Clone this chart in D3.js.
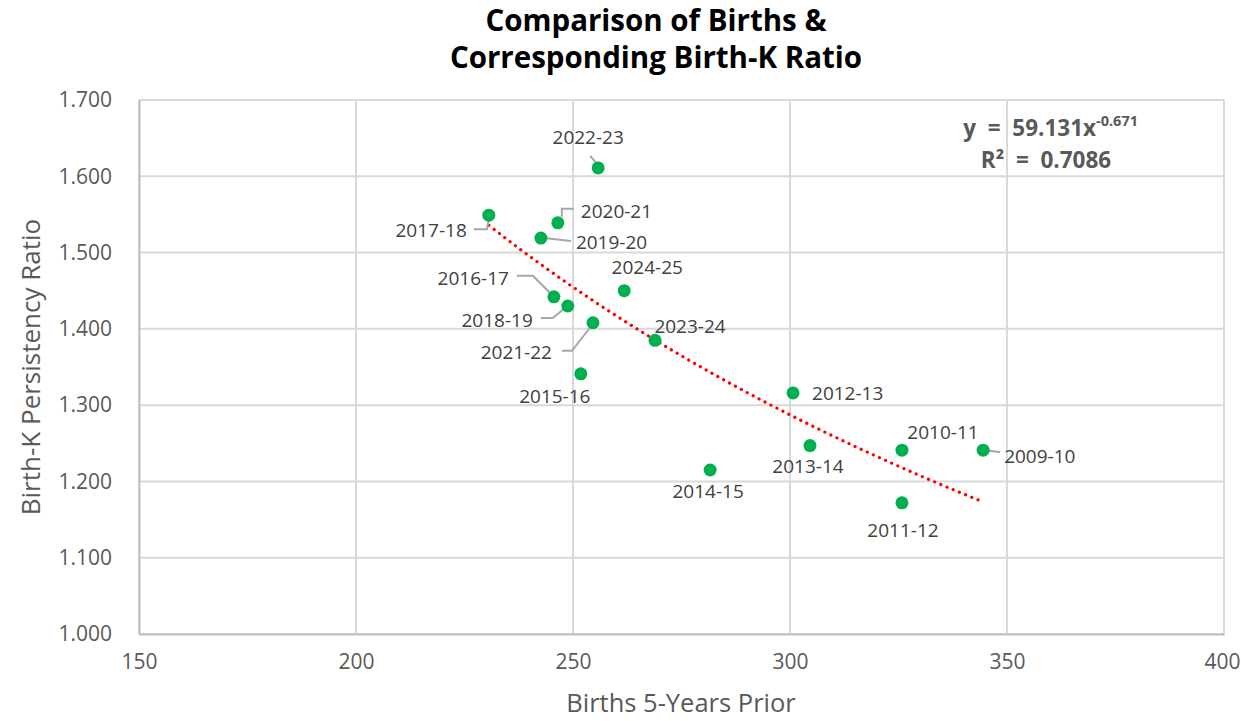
<!DOCTYPE html>
<html><head><meta charset="utf-8">
<script src="https://cdn.jsdelivr.net/npm/d3@7"></script>
<style>
body{margin:0;background:#fff;}
svg text{font-family:"Open Sans","Noto Sans",sans-serif;}
</style></head>
<body><svg id="c" width="1241" height="721"></svg>
<script>
// ---- data ----
const seasons = ["2009-10","2010-11","2011-12","2012-13","2013-14","2014-15","2015-16","2016-17","2017-18","2018-19","2019-20","2020-21","2021-22","2022-23","2023-24","2024-25"];
const births  = [344.5, 325.8, 325.8, 300.7, 304.6, 281.6, 251.8, 245.6, 230.6, 248.8, 242.6, 246.5, 254.6, 255.8, 268.9, 261.8];
const ratios  = [1.241, 1.241, 1.172, 1.316, 1.247, 1.215, 1.341, 1.442, 1.549, 1.430, 1.519, 1.539, 1.408, 1.611, 1.385, 1.450];
const xTicks = [150, 200, 250, 300, 350, 400];
const yTicks = [1.0, 1.1, 1.2, 1.3, 1.4, 1.5, 1.6, 1.7];
const trendCoef = 59.131, trendExp = -0.671, trendR2 = 0.7086;

// ---- layout (label offsets relative to point, in px) ----
const labelLayout = {
  "2022-23": {dx:-10, dy:-31, a:"middle", lead:[[-8,-12],[-2,-5]]},
  "2020-21": {dx:23, dy:-12, a:"start", lead:[[16,-14],[4,-14],[4,-6]]},
  "2019-20": {dx:35, dy:4, a:"start", lead:[[3,0],[30,3]]},
  "2017-18": {dx:-22, dy:15, a:"end", lead:[[-15,14],[-2,14],[0,5]]},
  "2016-17": {dx:-45, dy:-19, a:"end", lead:[[-37,-21],[-21,-21],[-4,-4]]},
  "2018-19": {dx:-35, dy:14, a:"end", lead:[[-27,12],[-15,12],[-4,3]]},
  "2021-22": {dx:-41, dy:29, a:"end", lead:[[-31,28],[-21,28],[-3,5]]},
  "2024-25": {dx:23, dy:-24, a:"middle"},
  "2023-24": {dx:35, dy:-14, a:"middle"},
  "2015-16": {dx:-26, dy:22, a:"middle"},
  "2012-13": {dx:19, dy:0, a:"start"},
  "2013-14": {dx:-2, dy:20, a:"middle"},
  "2010-11": {dx:41, dy:-18, a:"middle"},
  "2009-10": {dx:21, dy:6, a:"start", lead:[[3,0],[17,2]]},
  "2014-15": {dx:-2, dy:21, a:"middle"},
  "2011-12": {dx:1, dy:27, a:"middle"}
};

const svg = d3.select("#c");
const L = 139, R = 1224, T = 100, B = 634;
const x = d3.scaleLinear().domain([150, 400]).range([L, R]);
const y = d3.scaleLinear().domain([1.0, 1.7]).range([B, T]);
const grid = "#d9d9d9", txt = "#595959";

// gridlines
svg.append("g").selectAll("line").data(yTicks).join("line")
  .attr("x1", L).attr("x2", R).attr("y1", d => y(d)).attr("y2", d => y(d))
  .attr("stroke", grid).attr("stroke-width", 2);
svg.append("g").selectAll("line").data(xTicks).join("line")
  .attr("x1", d => x(d)).attr("x2", d => x(d)).attr("y1", T).attr("y2", B)
  .attr("stroke", grid).attr("stroke-width", 2);

// axes
const xAxis = svg.append("g").attr("transform", `translate(0,${B})`)
  .call(d3.axisBottom(x).tickValues(xTicks).tickSize(0).tickPadding(20).tickFormat(d3.format("d")));
const yAxis = svg.append("g").attr("transform", `translate(${L},0)`)
  .call(d3.axisLeft(y).tickValues(yTicks).tickSize(0).tickPadding(27).tickFormat(d3.format(".3f")));
[xAxis, yAxis].forEach(g => {
  g.select(".domain").attr("stroke", "#bfbfbf").attr("stroke-width", 2);
  g.selectAll("text").attr("fill", txt).attr("font-size", 21)
   .style("font-family", '"Open Sans","Noto Sans",sans-serif');
});
// keep last x tick label inside the canvas
xAxis.selectAll(".tick text").filter(d => d === 400).attr("text-anchor", "end").attr("x", 16);

// axis titles
svg.append("text").attr("x", 681).attr("y", 712).attr("text-anchor", "middle")
  .attr("fill", txt).attr("font-size", 25.5).text("Births 5-Years Prior");
svg.append("text").attr("transform", "translate(40,367) rotate(-90)").attr("text-anchor", "middle")
  .attr("fill", txt).attr("font-size", 26).text("Birth-K Persistency Ratio");

// title
const title = svg.append("text").attr("text-anchor", "middle").attr("font-weight", 700)
  .attr("font-size", 29.5).attr("fill", "#000");
title.append("tspan").attr("x", 656).attr("y", 31).text("Comparison of Births &");
title.append("tspan").attr("x", 656).attr("y", 68).text("Corresponding Birth-K Ratio");

// trendline
const xs = d3.extent(births);
const tPts = d3.range(0, 101).map(i => {
  const bx = xs[0] + (xs[1] - xs[0]) * i / 100;
  return [bx, trendCoef * Math.pow(bx, trendExp)];
});
svg.append("path").datum(tPts)
  .attr("d", d3.line().x(d => x(d[0])).y(d => y(d[1])))
  .attr("fill", "none").attr("stroke", "#ff0000").attr("stroke-width", 3.2)
  .attr("stroke-linecap", "round").attr("stroke-dasharray", "0.1,6.6");

// data
const pts = seasons.map((s, i) => ({s, bx: births[i], r: ratios[i]}));

// leader lines
svg.append("g").selectAll("path").data(pts.filter(d => labelLayout[d.s].lead)).join("path")
  .attr("d", d => {
    const px = x(d.bx), py = y(d.r);
    return d3.line()(labelLayout[d.s].lead.map(p => [px + p[0], py + p[1]]));
  })
  .attr("fill", "none").attr("stroke", "#a6a6a6").attr("stroke-width", 2);

// points
svg.append("g").selectAll("circle").data(pts).join("circle")
  .attr("cx", d => x(d.bx)).attr("cy", d => y(d.r)).attr("r", 6.5)
  .attr("fill", "#00b050");

// labels
svg.append("g").selectAll("text").data(pts).join("text")
  .attr("x", d => x(d.bx) + labelLayout[d.s].dx)
  .attr("y", d => y(d.r) + labelLayout[d.s].dy)
  .attr("text-anchor", d => labelLayout[d.s].a)
  .attr("dominant-baseline", "central")
  .attr("fill", "#404040").attr("font-size", 19).text(d => d.s);

// equation
const eq = svg.append("text").attr("text-anchor", "end").attr("font-weight", 700)
  .style("white-space", "pre")
  .attr("fill", txt).attr("font-size", 22.5).attr("x", 1138).attr("y", 136);
eq.append("tspan").text("y  =  " + trendCoef + "x");
eq.append("tspan").attr("font-size", 14.5).attr("dy", -10).text(trendExp);
svg.append("text").attr("text-anchor", "middle").attr("font-weight", 700)
  .style("white-space", "pre")
  .attr("fill", txt).attr("font-size", 22.5).attr("x", 1046).attr("y", 168)
  .text("R²  =  " + trendR2);
</script></body></html>
